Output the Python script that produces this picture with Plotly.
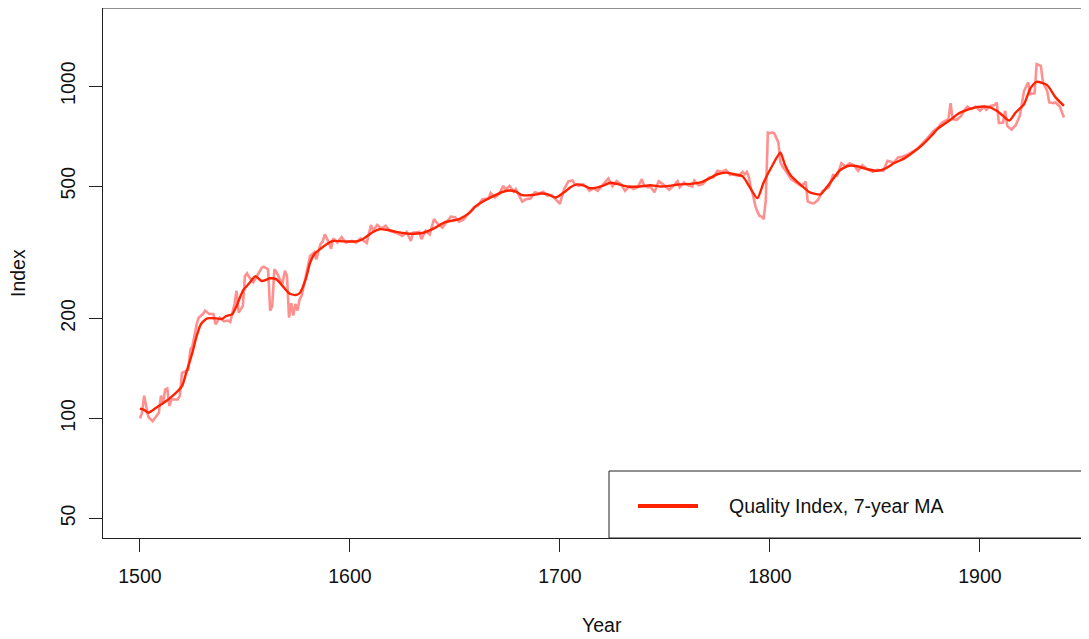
import plotly.graph_objects as go

raw_years = [1500, 1501, 1502, 1503, 1504, 1506, 1507, 1509, 1510, 1511, 1512, 1513, 1514, 1515,
             1518, 1519, 1520, 1522, 1523, 1524, 1525, 1527, 1528, 1530, 1531, 1533, 1535, 1536,
             1538, 1540, 1542, 1543, 1545, 1546, 1547, 1549, 1550, 1551, 1552, 1554, 1556, 1558,
             1559, 1560, 1561, 1562, 1563, 1564, 1565, 1567, 1568, 1569, 1570, 1571, 1572, 1573,
             1574, 1575, 1576, 1577, 1578, 1580, 1581, 1583, 1584, 1586, 1587, 1588, 1590, 1591,
             1592, 1594, 1596, 1598, 1601, 1603, 1605, 1608, 1610, 1611, 1613, 1615, 1617, 1619,
             1622, 1625, 1627, 1629, 1630, 1633, 1634, 1636, 1638, 1640, 1642, 1644, 1646, 1648,
             1650, 1652, 1654, 1656, 1659, 1661, 1663, 1666, 1667, 1669, 1671, 1673, 1674, 1676,
             1678, 1679, 1681, 1682, 1684, 1686, 1688, 1690, 1692, 1694, 1696, 1697, 1700, 1701,
             1702, 1704, 1706, 1707, 1709, 1711, 1713, 1714, 1716, 1718, 1720, 1721, 1723, 1725,
             1727, 1729, 1731, 1733, 1735, 1737, 1739, 1740, 1742, 1743, 1745, 1747, 1749, 1751,
             1752, 1754, 1756, 1757, 1759, 1761, 1763, 1764, 1766, 1768, 1771, 1773, 1775, 1777,
             1779, 1781, 1782, 1785, 1787, 1788, 1789, 1790, 1791, 1792, 1793, 1794, 1795, 1796,
             1797, 1798, 1799, 1800, 1801, 1802, 1803, 1804, 1805, 1806, 1808, 1810, 1812, 1815,
             1817, 1818, 1820, 1821, 1823, 1825, 1828, 1830, 1832, 1834, 1836, 1838, 1840, 1842,
             1844, 1846, 1849, 1851, 1854, 1856, 1859, 1861, 1863, 1866, 1870, 1873, 1875, 1878,
             1880, 1882, 1885, 1886, 1887, 1889, 1891, 1893, 1894, 1896, 1898, 1900, 1902, 1903,
             1905, 1907, 1908, 1909, 1911, 1912, 1913, 1915, 1917, 1919, 1921, 1923, 1924, 1926,
             1927, 1929, 1930, 1932, 1933, 1935, 1936, 1938, 1940]
raw_values = [100, 104, 117, 109, 101, 98, 100, 104, 117, 111, 122, 123, 109, 114,
              114, 117, 137, 139, 140, 161, 165, 192, 201, 206, 211, 206, 206, 192,
              201, 196, 197, 195, 221, 242, 208, 218, 268, 273, 266, 257, 270, 284,
              286, 284, 281, 211, 218, 281, 276, 259, 257, 278, 268, 201, 222, 204,
              221, 211, 228, 234, 250, 288, 308, 316, 301, 335, 340, 358, 338, 324,
              348, 338, 351, 338, 342, 338, 348, 337, 382, 367, 382, 373, 380, 367,
              362, 354, 364, 342, 362, 364, 346, 367, 358, 398, 384, 375, 389, 405,
              403, 391, 396, 409, 432, 437, 457, 459, 477, 462, 473, 501, 488, 501,
              481, 490, 459, 449, 457, 459, 479, 475, 481, 468, 470, 462, 442, 468,
              490, 517, 520, 507, 501, 507, 496, 484, 492, 484, 503, 510, 527, 500,
              518, 507, 484, 499, 490, 496, 525, 501, 496, 499, 479, 517, 507, 492,
              488, 501, 517, 496, 513, 503, 499, 520, 503, 507, 531, 531, 556, 552,
              560, 540, 543, 537, 552, 543, 552, 531, 490, 468, 437, 419, 407, 405,
              398, 452, 725, 722, 725, 722, 701, 677, 589, 573, 550, 525, 515, 500,
              516, 449, 444, 444, 455, 484, 496, 540, 537, 586, 573, 586, 578, 556,
              578, 563, 552, 560, 556, 596, 589, 610, 613, 624, 646, 674, 697, 734,
              750, 777, 796, 889, 796, 792, 814, 853, 868, 853, 868, 843, 868, 849,
              872, 877, 893, 774, 777, 843, 759, 740, 763, 814, 968, 1026, 946, 952,
              1165, 1151, 1026, 968, 893, 889, 893, 868, 805]

ma_years = [1500, 1502, 1504, 1508, 1511, 1515, 1520, 1522, 1525, 1527, 1529, 1532, 1536, 1539,
            1541, 1544, 1546, 1549, 1552, 1555, 1558, 1562, 1565, 1568, 1571, 1574, 1576, 1579,
            1581, 1583, 1586, 1589, 1592, 1597, 1603, 1606, 1611, 1614, 1618, 1622, 1627, 1632,
            1635, 1640, 1645, 1652, 1657, 1660, 1664, 1668, 1673, 1676, 1679, 1682, 1687, 1691,
            1694, 1698, 1702, 1705, 1708, 1711, 1714, 1718, 1721, 1724, 1728, 1733, 1738, 1743,
            1748, 1752, 1757, 1762, 1767, 1771, 1775, 1779, 1783, 1787, 1790, 1794, 1797, 1801,
            1805, 1807, 1810, 1813, 1816, 1819, 1824, 1827, 1830, 1833, 1837, 1841, 1846, 1851,
            1855, 1859, 1864, 1868, 1873, 1877, 1880, 1886, 1890, 1895, 1899, 1904, 1908, 1911,
            1914, 1917, 1921, 1924, 1927, 1932, 1936, 1940]
ma_values = [107, 106, 104, 108, 111, 116, 125, 137, 158, 177, 192, 200, 200, 199,
             203, 206, 218, 242, 255, 268, 259, 264, 262, 250, 238, 235, 238, 263,
             294, 312, 324, 335, 342, 341, 341, 346, 364, 371, 369, 364, 360, 360,
             362, 373, 389, 398, 416, 436, 452, 466, 481, 485, 481, 470, 470, 475,
             473, 462, 479, 496, 506, 503, 493, 496, 503, 512, 506, 498, 499, 503,
             499, 501, 506, 508, 513, 527, 543, 549, 543, 535, 501, 460, 513, 575,
             631, 582, 537, 515, 496, 479, 472, 496, 525, 556, 575, 575, 563, 556,
             565, 586, 606, 631, 669, 710, 745, 792, 829, 853, 866, 866, 843, 814,
             788, 833, 883, 984, 1030, 1007, 925, 872]

y_ticks = [50, 100, 200, 500, 1000]
x_ticks = [1500, 1600, 1700, 1800, 1900]
legend_label = "Quality Index, 7-year MA"

FONT = "Liberation Sans, Arial, Helvetica, sans-serif"
FS = 19.5
MA_COLOR = "#FF2200"
RAW_COLOR = "#FF9090"
AX = "#222222"

fig = go.Figure()
fig.add_trace(go.Scatter(x=raw_years, y=raw_values, mode="lines",
                         line=dict(color=RAW_COLOR, width=2.6), showlegend=False,
                         hoverinfo="skip"))
fig.add_trace(go.Scatter(x=ma_years, y=ma_values, mode="lines", name=legend_label,
                         line=dict(color=MA_COLOR, width=2.4, shape="spline", smoothing=0.6),
                         showlegend=False))

# The page body adds an 8px margin, so the figure is laid out in window pixels minus 8.
# The plot box runs past the right edge of the window, as in the reference.
OFF = 8
W, H = 1089, 639 - OFF
L, T, R = 103 - OFF, 8 - OFF, 0
B = H - (538 - OFF)
pw, ph = W - L - R, H - T - B

def px(xp):
    return (xp - OFF - L) / pw

def py(yp):
    return (H - B - (yp - OFF)) / ph

fig.update_layout(
    width=W, height=H,
    margin=dict(l=L, r=R, t=T, b=B, pad=0),
    paper_bgcolor="white", plot_bgcolor="white",
    font=dict(family=FONT, size=FS, color="#111111"),
    showlegend=False,
    xaxis=dict(range=[1482.4, 1482.4 + pw / 2.1], tickvals=x_ticks,
               ticktext=[str(v) for v in x_ticks],
               ticks="outside", ticklen=13, tickwidth=1, tickcolor=AX,
               showline=True, linecolor=AX, linewidth=1, showgrid=False, zeroline=False,
               ticklabelstandoff=8),
    yaxis=dict(type="log", range=[1.6398, 3.2352], tickvals=y_ticks,
               ticktext=[str(v) for v in y_ticks], tickangle=-90,
               ticks="outside", ticklen=13, tickwidth=1, tickcolor=AX,
               showline=True, linecolor=AX, linewidth=1, showgrid=False, zeroline=False,
               ticklabelstandoff=6),
    shapes=[
        dict(type="line", xref="paper", yref="paper", x0=0, x1=1, y0=1, y1=1,
             line=dict(color=AX, width=1)),
        dict(type="rect", xref="paper", yref="paper", x0=px(609), x1=1.05, y0=0, y1=py(471),
             line=dict(color=AX, width=1), fillcolor="white", layer="above"),
        dict(type="line", xref="paper", yref="paper", x0=px(638), x1=px(698),
             y0=py(506), y1=py(506), line=dict(color=MA_COLOR, width=4), layer="above"),
    ],
    annotations=[
        dict(text=legend_label, xref="paper", yref="paper", x=px(727), y=py(506),
             xanchor="left", yanchor="middle", showarrow=False,
             font=dict(family=FONT, size=FS, color="#111111")),
        dict(text="Year", xref="paper", yref="paper", x=px(602), y=py(625),
             xanchor="center", yanchor="middle", showarrow=False,
             font=dict(family=FONT, size=FS, color="#111111")),
        dict(text="Index", xref="paper", yref="paper", x=px(18), y=py(273),
             xanchor="center", yanchor="middle", showarrow=False, textangle=-90,
             font=dict(family=FONT, size=FS, color="#111111")),
    ],
)

fig.write_html("out.html", config={"displayModeBar": False})
